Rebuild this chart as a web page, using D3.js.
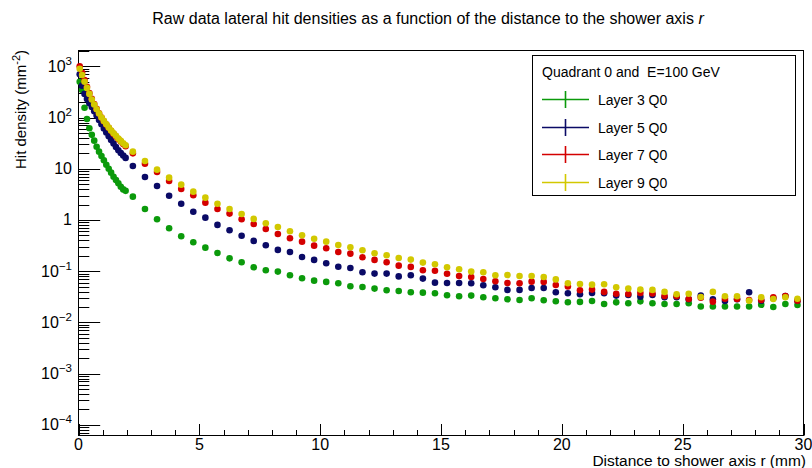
<!DOCTYPE html>
<html>
<head>
<meta charset="utf-8">
<script src="https://cdn.jsdelivr.net/npm/d3@7"></script>
<style>
  html, body { margin: 0; padding: 0; background: #fff; }
  svg { display: block; font-family: "Liberation Sans", Arial, Helvetica, sans-serif; }
  text { white-space: pre; }
</style>
</head>
<body>
<svg id="chart" width="812" height="468"></svg>
<script>
// ---- data ----
const rValues = [0.05,0.15,0.25,0.35,0.45,0.55,0.65,0.75,0.85,0.95,1.05,1.15,1.25,1.35,1.45,1.55,1.65,1.75,1.85,1.95,
  2.25,2.75,3.25,3.75,4.25,4.75,5.25,5.75,6.25,6.75,7.25,7.75,8.25,8.75,9.25,9.75,10.25,10.75,11.25,11.75,
  12.25,12.75,13.25,13.75,14.25,14.75,15.25,15.75,16.25,16.75,17.25,17.75,18.25,18.75,19.25,19.75,
  20.25,20.75,21.25,21.75,22.25,22.75,23.25,23.75,24.25,24.75,25.25,25.75,26.25,26.75,27.25,27.75,28.25,28.75,29.25,29.75];

const layer3 = [500,347,156,94,62,46,35.4,27,21.6,17.8,14.7,12.0,10.0,8.4,7.0,6.0,5.2,4.45,3.95,3.7,
  2.85,1.64,1.03,0.69,0.48,0.366,0.288,0.227,0.178,0.149,0.119,0.104,0.098,0.083,0.0725,0.0653,0.0617,0.058,0.0507,0.049,
  0.0456,0.0423,0.041,0.0387,0.038,0.037,0.0338,0.0324,0.0333,0.0309,0.0296,0.0283,0.0274,0.0296,0.027,0.0258,
  0.0247,0.0251,0.0262,0.0229,0.0246,0.0236,0.0257,0.0236,0.0229,0.0229,0.0236,0.0204,0.0204,0.0204,0.0204,0.0204,0.022,0.0200,0.0229,0.0219];

const layer5 = [700,420,290,230,190,160,133,110,90,74,61,51,43,36.5,31,26.5,23,20.3,18.2,16.3,
  11.3,6.9,4.6,2.98,2.08,1.45,1.11,0.80,0.63,0.49,0.39,0.32,0.26,0.237,0.189,0.166,0.143,0.122,0.115,0.095,
  0.0895,0.0895,0.079,0.083,0.0715,0.0596,0.0589,0.0589,0.058,0.053,0.0484,0.043,0.043,0.047,0.047,0.0387,
  0.037,0.0353,0.0375,0.037,0.0333,0.0343,0.0318,0.0343,0.0309,0.0309,0.0283,0.0333,0.0283,0.0262,0.0283,0.0387,0.0265,0.0296,0.0328,0.0265];

const layer7 = [1000,750,540,400,300,232,184,148,121,100,85,73,63,55,48,42.5,38,34,30.5,27.5,
  20.0,12.6,8.66,5.78,4.03,3.03,2.18,1.64,1.33,1.03,0.836,0.667,0.533,0.438,0.377,0.315,0.28,0.237,0.22,0.187,
  0.166,0.149,0.128,0.121,0.104,0.102,0.089,0.0805,0.077,0.0705,0.0634,0.0589,0.058,0.0624,0.0617,0.0537,
  0.05,0.0423,0.0436,0.0393,0.0363,0.0359,0.0375,0.0367,0.0328,0.0324,0.0286,0.0304,0.0254,0.029,0.0286,0.0274,0.0274,0.0309,0.0328,0.0265];

const layer9 = [900,680,500,380,290,225,180,145,120,100,86,74,64,56,49.5,44,39,35,31.5,28.8,
  21.6,14.2,9.6,6.7,4.9,3.57,2.73,2.08,1.64,1.31,1.05,0.86,0.73,0.60,0.50,0.43,0.377,0.325,0.293,0.256,
  0.224,0.205,0.181,0.168,0.147,0.136,0.119,0.109,0.098,0.095,0.083,0.084,0.0805,0.0805,0.077,0.069,
  0.058,0.056,0.0545,0.0555,0.0484,0.0456,0.0436,0.043,0.0393,0.0353,0.0363,0.0313,0.0393,0.0324,0.0324,0.0265,0.0309,0.0286,0.0309,0.029];

const seriesNames = ["Layer 3 Q0", "Layer 5 Q0", "Layer 7 Q0", "Layer 9 Q0"];
const seriesColors = ["#0b9a0b", "#0a0a66", "#d40000", "#d2c800"];
const seriesValues = [layer3, layer5, layer7, layer9];

const xTickValues = [0, 5, 10, 15, 20, 25, 30];
const xMinorValues = [1,2,3,4,6,7,8,9,11,12,13,14,16,17,18,19,21,22,23,24,26,27,28,29];
const yDecades = [-4, -3, -2, -1, 0, 1, 2, 3];

const titleText = "Raw data lateral hit densities as a function of the distance to the shower axis ";
const xTitle = "Distance to shower axis r (mm)";
const legendHeader = "Quadrant 0 and  E=100 GeV";

// ---- layout ----
const svg = d3.select("#chart");
const fL = 78.5, fR = 803.5, fT = 50.5, fB = 435.5;

const x = d3.scaleLinear().domain([0, 30]).range([fL, fR]);
const y = d3.scaleLog().domain([Math.pow(10, -4.21), Math.pow(10, 3.31)]).range([fB, fT]);

// frame
svg.append("rect").attr("x", fL).attr("y", fT).attr("width", fR - fL).attr("height", fB - fT)
  .attr("fill", "none").attr("stroke", "#000").attr("stroke-width", 1);

// x ticks
const gx = svg.append("g");
xTickValues.forEach(v => {
  const px = Math.round(x(v)) + 0.5;
  gx.append("line").attr("x1", px).attr("x2", px).attr("y1", fB).attr("y2", fB - 11.5).attr("stroke", "#000");
  gx.append("text").attr("x", x(v)).attr("y", 449.5).attr("text-anchor", "middle")
    .attr("font-size", 16).text(v);
});
xMinorValues.forEach(v => {
  const px = Math.round(x(v)) + 0.5;
  gx.append("line").attr("x1", px).attr("x2", px).attr("y1", fB).attr("y2", fB - 5.5).attr("stroke", "#000");
});

// y ticks
const gy = svg.append("g");
yDecades.forEach(d => {
  const v = Math.pow(10, d);
  const py = Math.round(y(v)) + 0.5;
  gy.append("line").attr("x1", fL).attr("x2", fL + 21.7).attr("y1", py).attr("y2", py).attr("stroke", "#000");
  for (let m = 2; m <= 9; m++) {
    const mv = m * v;
    if (mv > y.domain()[1]) continue;
    const my = Math.round(y(mv)) + 0.5;
    gy.append("line").attr("x1", fL).attr("x2", fL + 10.8).attr("y1", my).attr("y2", my).attr("stroke", "#000");
  }
  const t = gy.append("text").attr("x", 72).attr("y", y(v) + 5.5).attr("text-anchor", "end").attr("font-size", 16);
  if (d === 0) t.text("1");
  else if (d === 1) t.text("10");
  else {
    t.append("tspan").text("10");
    t.append("tspan").attr("font-size", 11.5).attr("dy", -7).text(d < 0 ? "\u2212" + Math.abs(d) : String(d));
  }
});
[9, 8, 7].forEach(m => {
  const mv = m * 1e-5;
  if (mv < y.domain()[0]) return;
  const my = Math.round(y(mv)) + 0.5;
  gy.append("line").attr("x1", fL).attr("x2", fL + 10.8).attr("y1", my).attr("y2", my).attr("stroke", "#000");
});

// markers
const gp = svg.append("g");
seriesValues.forEach((vals, i) => {
  gp.append("g").selectAll("circle").data(vals).join("circle")
    .attr("cx", (d, j) => x(rValues[j]))
    .attr("cy", d => y(d))
    .attr("r", 3.3)
    .attr("fill", seriesColors[i]);
});

// title
const tt = svg.append("text").attr("x", 428).attr("y", 24).attr("text-anchor", "middle").attr("font-size", 16);
tt.append("tspan").text(titleText);
tt.append("tspan").attr("font-style", "italic").text("r");

// x title
svg.append("text").attr("x", 806).attr("y", 466).attr("text-anchor", "end").attr("font-size", 15.5).text(xTitle);

// y title
const yt = svg.append("text").attr("transform", "translate(26,50) rotate(-90)").attr("text-anchor", "end").attr("font-size", 15);
yt.append("tspan").text("Hit density (mm");
yt.append("tspan").attr("font-size", 11).attr("dy", -6).text("-2");
yt.append("tspan").attr("dy", 6).text(")");

// legend
const lg = svg.append("g");
lg.append("rect").attr("x", 532.5).attr("y", 55.5).attr("width", 263).attr("height", 140)
  .attr("fill", "#fff").attr("stroke", "#000").attr("stroke-width", 1);
lg.append("text").attr("x", 542).attr("y", 77).attr("font-size", 14).text(legendHeader);
const rowY = [99.5, 127.5, 154.5, 182.5];
seriesNames.forEach((n, i) => {
  const cy = rowY[i];
  lg.append("line").attr("x1", 542).attr("x2", 589).attr("y1", cy).attr("y2", cy).attr("stroke", seriesColors[i]).attr("stroke-width", 1.6);
  lg.append("line").attr("x1", 565.5).attr("x2", 565.5).attr("y1", cy - 8.5).attr("y2", cy + 8.5).attr("stroke", seriesColors[i]).attr("stroke-width", 1.6);
  lg.append("text").attr("x", 598).attr("y", cy + 5).attr("font-size", 14).text(n);
});
</script>
</body>
</html>
